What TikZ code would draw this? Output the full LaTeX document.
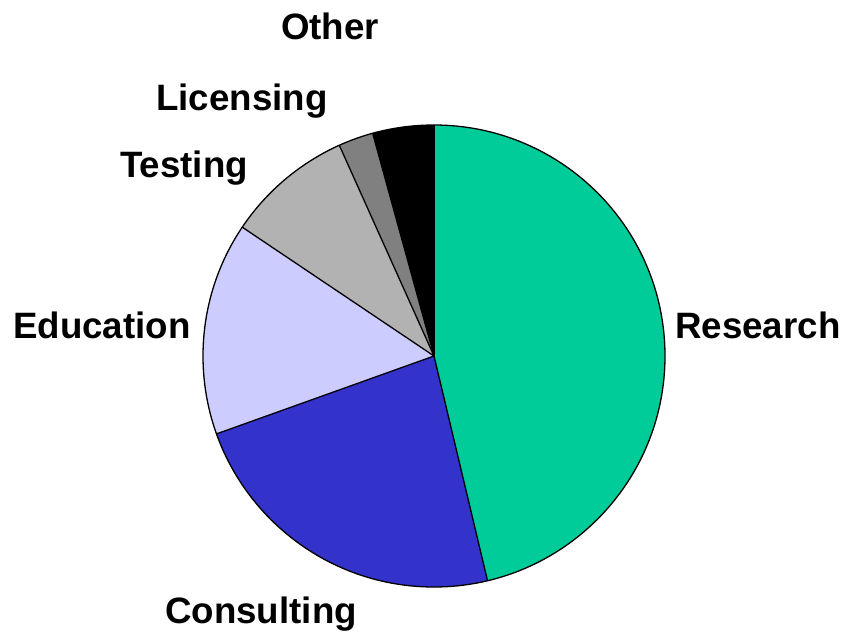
\documentclass[tikz,border=0pt]{standalone}
\usepackage{fontspec}
\setmainfont{Liberation Sans}
\begin{document}
\begin{tikzpicture}[x=1pt,y=-1pt,
  slice/.style={draw=black,line width=1.3pt,line join=round},
  lbl/.style={font=\bfseries\fontsize{36.7}{40}\selectfont,inner sep=0pt,anchor=base west}]
\useasboundingbox (0,0) rectangle (845,634);
\def\R{231}
\coordinate (c) at (434,356);
% slices (angles measured counter-clockwise, y axis flipped so use negative angles)
\fill[color={rgb,255:red,0;green,204;blue,153}] (c) -- ++(-90:\R) arc[start angle=-90,end angle=76.6,radius=\R] -- cycle;
\fill[color={rgb,255:red,51;green,51;blue,204}] (c) -- ++(76.6:\R) arc[start angle=76.6,end angle=160.3,radius=\R] -- cycle;
\fill[color={rgb,255:red,204;green,204;blue,255}] (c) -- ++(160.3:\R) arc[start angle=160.3,end angle=213.9,radius=\R] -- cycle;
\fill[color={rgb,255:red,178;green,178;blue,178}] (c) -- ++(213.9:\R) arc[start angle=213.9,end angle=245.8,radius=\R] -- cycle;
\fill[color={rgb,255:red,128;green,128;blue,128}] (c) -- ++(245.8:\R) arc[start angle=245.8,end angle=254.6,radius=\R] -- cycle;
\fill[black] (c) -- ++(254.6:\R) arc[start angle=254.6,end angle=270,radius=\R] -- cycle;
% outlines
\foreach \a in {-90,76.6,160.3,213.9,245.8,254.6} \draw[slice] (c) -- ++(\a:\R);
\draw[slice] (c) circle[radius=\R];
% labels
\node[lbl] (research) at (675,338) {Research};
\node[lbl] (consulting) at (165,623) {Consulting};
\node[lbl] (education) at (13,338) {Education};
\node[lbl] (testing) at (120,177) {Testing};
\node[lbl] (licensing) at (156,110) {Licensing};
\node[lbl] (other) at (281,40) {Other};
\end{tikzpicture}
\end{document}
